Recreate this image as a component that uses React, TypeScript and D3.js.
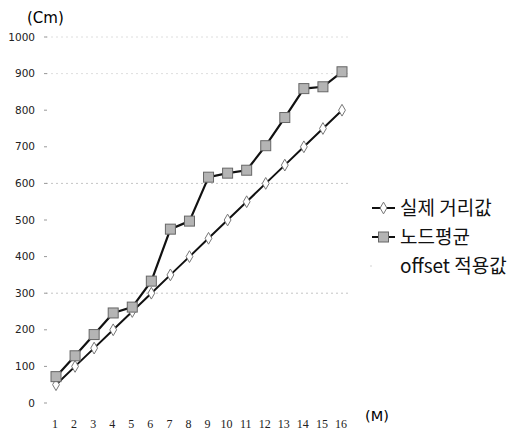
import React, { useEffect, useRef } from 'react';
import * as d3 from 'd3';

const months = [1, 2, 3, 4, 5, 6, 7, 8, 9, 10, 11, 12, 13, 14, 15, 16];
const actualDistance = [50, 100, 150, 200, 250, 300, 350, 400, 450, 500, 550, 600, 650, 700, 750, 800];
const nodeAverage = [72, 129, 187, 246, 262, 333, 475, 497, 617, 628, 636, 703, 780, 859, 864, 905];
const yTicks = [0, 100, 200, 300, 400, 500, 600, 700, 800, 900, 1000];
const faintGrid = [300, 600, 900, 1000];
const legendLabels = ['실제 거리값', '노드평균', 'offset 적용값'];

const W = 513;
const H = 432;

export default function App() {
  const svgRef = useRef<SVGSVGElement>(null);

  useEffect(() => {
    if (!svgRef.current) return;
    const svg = d3.select(svgRef.current);
    svg.selectAll('*').remove();

    const x = d3.scaleLinear().domain([1, 16]).range([56, 342]);
    const y = d3.scaleLinear().domain([0, 1000]).range([403, 37]);

    // faint gridline remnants
    svg.append('g')
      .selectAll('line')
      .data(faintGrid)
      .enter()
      .append('line')
      .attr('x1', 46)
      .attr('x2', 350)
      .attr('y1', d => y(d))
      .attr('y2', d => y(d))
      .attr('stroke', d => (d === 600 || d === 300 ? '#c4c4c4' : '#dedede'))
      .attr('stroke-width', 1)
      .attr('stroke-dasharray', '2,3');

    // y axis labels + tiny ticks
    const yAxis = svg.append('g');
    yAxis.selectAll('text')
      .data(yTicks)
      .enter()
      .append('text')
      .attr('x', 35)
      .attr('y', d => y(d))
      .attr('dy', '0.35em')
      .attr('text-anchor', 'end')
      .style('font-family', 'DejaVu Sans')
      .style('font-size', '10.5px')
      .attr('fill', '#222')
      .text(d => d);
    yAxis.selectAll('line')
      .data(yTicks)
      .enter()
      .append('line')
      .attr('x1', 44)
      .attr('x2', 47)
      .attr('y1', d => y(d))
      .attr('y2', d => y(d))
      .attr('stroke', '#999');

    svg.append('text')
      .attr('x', 27)
      .attr('y', 18)
      .attr('dy', '0.35em')
      .style('font-family', 'DejaVu Sans')
      .style('font-size', '15px')
      .text('(Cm)');

    // x axis labels
    svg.append('g')
      .selectAll('text')
      .data(months)
      .enter()
      .append('text')
      .attr('x', d => x(d) - 1)
      .attr('y', 424)
      .attr('dy', '0.35em')
      .attr('text-anchor', 'middle')
      .style('font-family', 'Liberation Serif')
      .style('font-size', '12px')
      .attr('fill', '#222')
      .text(d => d);

    svg.append('text')
      .attr('x', 365)
      .attr('y', 416)
      .attr('dy', '0.35em')
      .style('font-family', 'DejaVu Sans')
      .style('font-size', '14.5px')
      .text('(M)');

    const line = d3.line<number>()
      .x((d, i) => x(months[i]))
      .y(d => y(d));

    // 실제 거리값
    svg.append('path')
      .datum(actualDistance)
      .attr('fill', 'none')
      .attr('stroke', '#111')
      .attr('stroke-width', 2)
      .attr('d', line);

    const diamond = d3.symbol().type(d3.symbolDiamond).size(40);
    svg.append('g')
      .selectAll('path')
      .data(actualDistance)
      .enter()
      .append('path')
      .attr('d', diamond)
      .attr('transform', (d, i) => `translate(${x(months[i])},${y(d)})`)
      .attr('fill', '#fff')
      .attr('stroke', '#777')
      .attr('stroke-width', 1);

    // 노드평균
    svg.append('path')
      .datum(nodeAverage)
      .attr('fill', 'none')
      .attr('stroke', '#111')
      .attr('stroke-width', 2.2)
      .attr('d', line);

    svg.append('g')
      .selectAll('rect')
      .data(nodeAverage)
      .enter()
      .append('rect')
      .attr('x', (d, i) => x(months[i]) - 5)
      .attr('y', d => y(d) - 5)
      .attr('width', 10)
      .attr('height', 10)
      .attr('fill', '#b4b4b4')
      .attr('stroke', '#666')
      .attr('stroke-width', 1);

    // legend
    const lg = svg.append('g');
    const rowY = (i: number) => 208 + i * 29;
    legendLabels.forEach((label, i) => {
      if (i < 2) {
        lg.append('line')
          .attr('x1', 372)
          .attr('x2', 395)
          .attr('y1', rowY(i))
          .attr('y2', rowY(i))
          .attr('stroke', '#111')
          .attr('stroke-width', 2);
      }
      if (i === 0) {
        lg.append('path')
          .attr('d', diamond)
          .attr('transform', `translate(383.5,${rowY(i)})`)
          .attr('fill', '#fff')
          .attr('stroke', '#777');
      } else if (i === 1) {
        lg.append('rect')
          .attr('x', 378.5)
          .attr('y', rowY(i) - 5)
          .attr('width', 10)
          .attr('height', 10)
          .attr('fill', '#b4b4b4')
          .attr('stroke', '#666');
      } else {
        lg.append('circle')
          .attr('cx', 371)
          .attr('cy', rowY(i))
          .attr('r', 0.8)
          .attr('fill', '#ccc');
      }
      lg.append('text')
        .attr('x', 400)
        .attr('y', rowY(i))
        .attr('dy', '0.36em')
        .style('font-family', 'Noto Sans CJK KR')
        .style('font-size', '19px')
        .attr('fill', '#111')
        .text(label);
    });
  }, []);

  return (
    <svg
      ref={svgRef}
      width={W}
      height={H}
      style={{ position: 'absolute', left: 0, top: 0, background: '#fff' }}
    />
  );
}
